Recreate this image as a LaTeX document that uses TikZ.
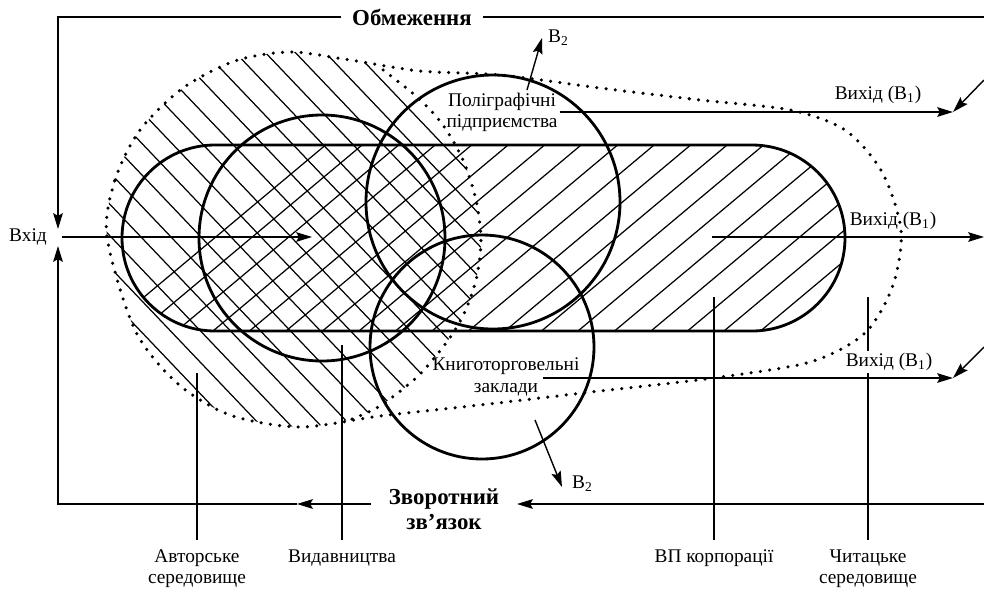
\documentclass[tikz,border=0pt]{standalone}
\usepackage{fontspec}
\setmainfont{Liberation Serif}
\usetikzlibrary{arrows.meta,calc}

% outlines used twice: once to clip the hatching, once to draw
\newcommand{\corppath}{(215,145) -- (752,145) arc[start angle=-90,end angle=90,radius=93]
  -- (215,331) arc[start angle=90,end angle=270,radius=93] -- cycle}
\newcommand{\authorpath}{plot[smooth] coordinates {(378,66) (350,60) (290,52) (235,61) (183,88)
  (140,130) (115,180) (107,237) (135,330) (177,383) (230,415) (300,427) (352,419)}
  -- plot[smooth] coordinates {(352,419) (380,406) (417,377) (443,347) (462,318) (476,280)
  (481,240) (476,200) (463,160) (443,125) (417,97) (378,66)} -- cycle}

\begin{document}
\begin{tikzpicture}[x=0.2mm, y=-0.2mm,
  font=\fontsize{11}{12}\selectfont,
  thinline/.style={line width=0.8pt},
  arr/.style={line width=0.8pt, -{Stealth[length=9pt, width=5.5pt, inset=1.5pt]}},
  ring/.style={line width=1.6pt},
  dotline/.style={line width=2pt, line cap=round, dash pattern=on 0pt off 5.3pt},
  hatch/.style={line width=0.7pt},
  leader/.style={line width=0.6pt},
  lbl/.style={inner sep=1pt, align=center},
  caption/.style={inner xsep=1pt, inner ysep=5.5pt, align=center, anchor=north},
  head/.style={font=\fontsize{13}{14}\selectfont\bfseries, align=center}]
\useasboundingbox (0,0) rectangle (984,592);

% hatching
\begin{scope}
  \clip \authorpath;
  \foreach \k in {-18,...,8}
    \draw[hatch] ({442+30*(\k)-200},28) -- ({442+30*(\k)+200},448);
\end{scope}
\begin{scope}
  \clip \corppath;
  \foreach \k in {-13,...,14}
    \draw[hatch] ({578+36.5*(\k)-240},532) -- ({578+36.5*(\k)+240},130);
\end{scope}

% units of the system
\draw[ring] \corppath;
\draw[ring] (322,238) circle[radius=123];
\draw[ring] (493,202) circle[radius=127];
\draw[ring] (482,347) circle[radius=112];

% environments
\draw[dotline] plot[smooth cycle] coordinates {(107,237) (115,180) (140,130) (183,88) (235,61)
  (290,52) (350,60) (420,71) (500,75) (600,88) (700,100) (790,110) (845,130) (882,172)
  (901,230) (893,285) (865,333) (810,362) (713,378) (600,391) (480,405) (380,416)
  (300,427) (230,415) (177,383) (135,330)};
\draw[dotline] plot[smooth] coordinates {(352,419) (380,406) (417,377) (443,347) (462,318)
  (476,280) (481,240) (476,200) (463,160) (443,125) (417,97) (378,66)};

% frame: limits, input, feedback
\node[head, inner xsep=6pt] (limits) at (412,17) {Обмеження};
\node[lbl] (vhid) at (28,237) {Вхід};
\node[head, inner xsep=10pt, inner ysep=0pt] (fb) at (444,509) {Зворотний\\зв’язок};
\coordinate (tr) at (984,17);
\coordinate (inDown) at (58,229);
\coordinate (inUp) at (58,246);
\coordinate (br) at (984,504);
\coordinate (fbArrow) at (297,504);
\coordinate (inStart) at (62,237);
\coordinate (inTip) at (312,237);
\draw[arr] (limits.west) -| (inDown);
\draw[thinline] (limits.east) -- (tr);
\draw[arr] (br) -- (fb.east |- br);
\draw[arr] (fb.west |- br) -- (fbArrow);
\draw[arr] (fbArrow) -| (inUp);
\draw[arr] (inStart) -- (inTip);

% leaders to the captions
\coordinate (authPt) at (197,373);
\coordinate (pubPt) at (342,345);
\coordinate (corpPt) at (714,297);
\coordinate (readPt) at (868,297);
\node[caption] (authlbl) at (197,540) {Авторське\\середовище};
\node[caption] (publbl) at (342,540) {Видавництва};
\node[caption] (corplbl) at (714,540) {ВП корпорації};
\node[caption] (readlbl) at (868,540) {Читацьке\\середовище};
\draw[leader] (authPt) -- (authlbl);
\draw[leader] (pubPt) -- (publbl);
\draw[leader] (corpPt) -- (corplbl);
\draw[leader] (readPt) -- (readlbl);

% printing and bookselling
\node[lbl] (poly) at (502,112) {Поліграфічні\\підприємства};
\node[lbl] (book) at (506,377) {Книготорговельні\\заклади};

% outputs
\coordinate (out1) at (953,112);
\coordinate (in1) at (984,80);
\coordinate (corpOut) at (712,237);
\coordinate (out2) at (984,237);
\coordinate (bookOut) at (543,378);
\coordinate (out3) at (953,378);
\coordinate (in3) at (984,347);
\draw[arr] (poly.east) -- (out1);
\draw[arr] (in1) -- (out1);
\draw[arr] (corpOut) -- (out2);
\draw[arr] (bookOut) -- (out3);
\draw[arr] (in3) -- (out3);
\node[lbl] (out1lbl) at (878,95) {Вихід (В\textsubscript{1})};
\node[lbl] (out2lbl) at (893,221) {Вихід (В\textsubscript{1})};
\node[lbl, fill=white] (out3lbl) at (889,362) {Вихід (В\textsubscript{1})};

% side outputs
\coordinate (b2from1) at (527,90);
\coordinate (b2tip1) at (542,38);
\coordinate (b2from2) at (535,420);
\coordinate (b2tip2) at (562,487);
\draw[arr] (b2from1) -- (b2tip1);
\draw[arr] (b2from2) -- (b2tip2);
\node[lbl, anchor=west] (b2top) at (546,38) {В\textsubscript{2}};
\node[lbl, anchor=west] (b2bot) at (570,484) {В\textsubscript{2}};
\end{tikzpicture}
\end{document}
